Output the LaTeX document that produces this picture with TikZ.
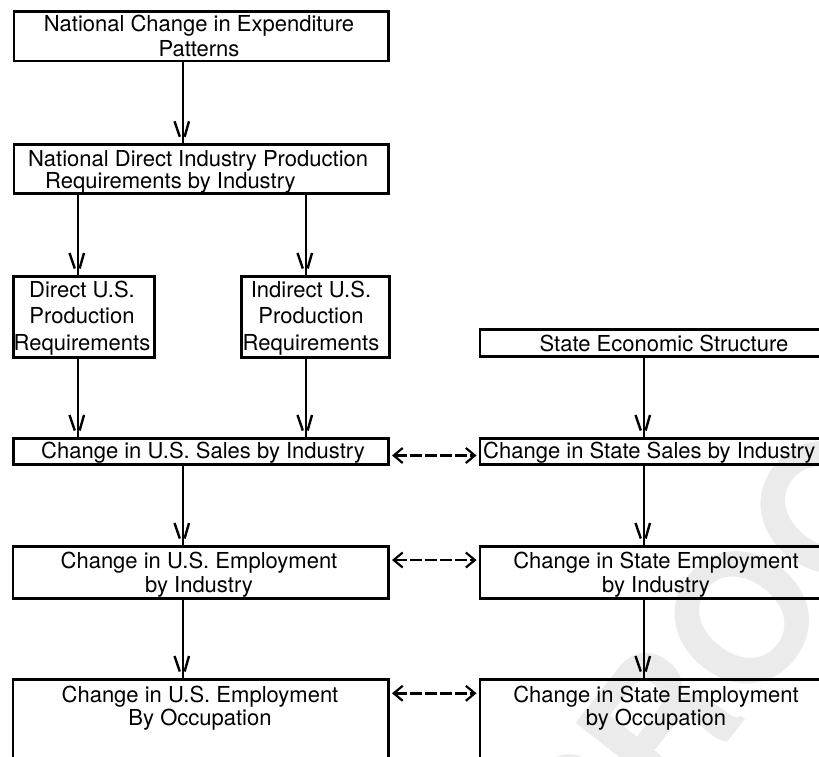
\documentclass[tikz,border=0pt]{standalone}
\usepackage{fontspec}
\setmainfont{TeX Gyre Heros}
\usetikzlibrary{arrows.meta}
\begin{document}
\begin{tikzpicture}[x=1pt,y=-1pt,
  box/.style={draw, rectangle, line width=2.8pt, inner sep=0pt},
  lbl/.style={inner sep=0pt, align=center, anchor=base, font=\fontsize{22}{25}\selectfont},
  link/.style={line width=1.8pt},
  dlink/.style={line width=2.5pt, dash pattern=on 12pt off 3pt, shorten <=2pt, shorten >=2pt,
     {Straight Barb[length=9pt,width=15pt,line width=2.2pt]}-{Straight Barb[length=9pt,width=15pt,line width=2.2pt]}},
  pics/vhead/.style={code={
     \draw[line width=2.4pt] (-8.5,-22) -- (-3.2,-6.5) (6,-22) -- (1.6,-6.5);}}
]
\useasboundingbox (0,0) rectangle (819,757);
\clip (0,0) rectangle (819,757);
% watermark
\node[rotate=52, text=black!8, inner sep=0pt, font=\fontsize{180}{180}\selectfont\bfseries] (wm) at (742,618) {PROOF};
% columns
\coordinate (c1) at (183,0);
\coordinate (c2) at (78,0);
\coordinate (c3) at (306,0);
\coordinate (c4) at (644,0);
% boxes
\node[box, minimum width=374.7pt, minimum height=49.7pt] (b1) at (201.25,36.25) {};
\node[box, minimum width=374.7pt, minimum height=48.9pt] (b2) at (201.25,169.15) {};
\node[box, minimum width=141.2pt, minimum height=81.2pt] (b3) at (84,317) {};
\node[box, minimum width=148.2pt, minimum height=81.2pt] (b4) at (315.5,317) {};
\node[box, minimum width=420pt, minimum height=27.2pt] (b5) at (689.95,343) {};
\node[box, minimum width=375.2pt, minimum height=26.2pt] (b6) at (201,451.5) {};
\node[box, minimum width=420pt, minimum height=26.2pt] (b7) at (689.95,451.5) {};
\node[box, minimum width=375.7pt, minimum height=52.2pt] (b8) at (200.75,572.5) {};
\node[box, minimum width=420pt, minimum height=52.2pt] (b9) at (689.95,572.5) {};
\node[box, minimum width=375.7pt, minimum height=219.2pt] (b10) at (200.75,789) {};
\node[box, minimum width=420pt, minimum height=219.2pt] (b11) at (689.95,789) {};
% texts (anchor = baseline of the last line)
\node[lbl] (t1) at (199,56.7) {National Change in Expenditure\\Patterns};
\node[lbl, align=left, anchor=base west, font=\fontsize{22}{22}\selectfont] (t2) at (28,188)
  {National Direct Industry Production\\\hspace*{17pt}Requirements by Industry};
\node[lbl, font=\fontsize{22}{26.5}\selectfont] (t3) at (82,350) {Direct U.S.\\Production\\Requirements};
\node[lbl, font=\fontsize{22}{26.5}\selectfont] (t4) at (311,350) {Indirect U.S.\\Production\\Requirements};
\node[lbl] (t5) at (664,351.5) {State Economic Structure};
\node[lbl] (t6) at (203,458) {Change in U.S. Sales by Industry};
\node[lbl, anchor=base west] (t7) at (483,458) {Change in State Sales by Industry};
\node[lbl, font=\fontsize{22}{24}\selectfont] (t8) at (199,592) {Change in U.S. Employment\\by Industry};
\node[lbl, font=\fontsize{22}{24}\selectfont] (t9) at (656,592) {Change in State Employment\\by Industry};
\node[lbl, font=\fontsize{22}{23}\selectfont] (t10) at (200,725) {Change in U.S. Employment\\By Occupation};
\node[lbl, font=\fontsize{22}{23}\selectfont] (t11) at (656,725) {Change in State Employment\\by Occupation};
% vertical connectors
\draw[link] (b1.south -| c1) -- (b2.north -| c1);
\draw[link] (b2.south -| c2) -- (b3.north -| c2);
\draw[link] (b2.south -| c3) -- (b4.north -| c3);
\draw[link] (b3.south -| c2) -- (b6.north -| c2);
\draw[link] (b4.south -| c3) -- (b6.north -| c3);
\draw[link] (b6.south -| c1) -- (b8.north -| c1);
\draw[link] (b8.south -| c1) -- (b10.north -| c1);
\draw[link] (b5.south -| c4) -- (b7.north -| c4);
\draw[link] (b7.south -| c4) -- (b9.north -| c4);
\draw[link] (b9.south -| c4) -- (b11.north -| c4);
\pic at (b2.north -| c1) {vhead};
\pic at (b3.north -| c2) {vhead};
\pic at (b4.north -| c3) {vhead};
\pic at (b6.north -| c2) {vhead};
\pic at (b6.north -| c3) {vhead};
\pic at (b8.north -| c1) {vhead};
\pic at (b10.north -| c1) {vhead};
\pic at (b7.north -| c4) {vhead};
\pic at (b9.north -| c4) {vhead};
\pic at (b11.north -| c4) {vhead};
% dashed two-way connectors
\draw[dlink] (b6.east |- 0,455.5) -- (b7.west |- 0,455.5);
\draw[dlink] (b8.east |- 0,560) -- (b9.west |- 0,560);
\draw[dlink] (b10.east |- 0,693.3) -- (b11.west |- 0,693.3);
\end{tikzpicture}
\end{document}
